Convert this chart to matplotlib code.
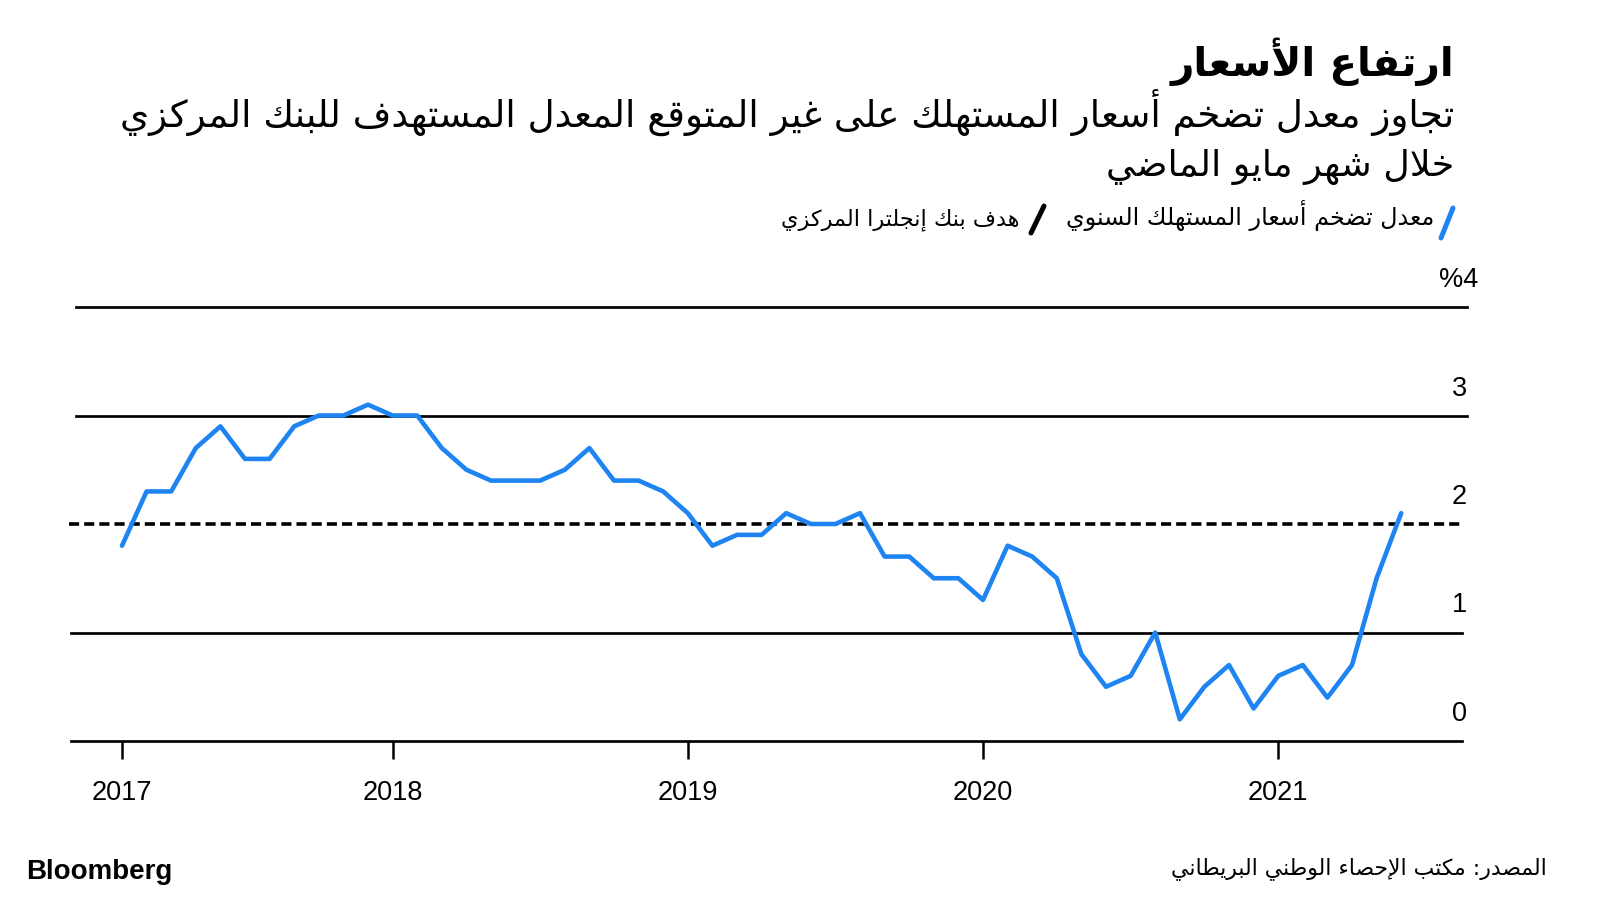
import matplotlib
matplotlib.use('Agg')
import matplotlib.pyplot as plt
from matplotlib.lines import Line2D

# ---------------- data ----------------
years = ['2017', '2018', '2019', '2020', '2021']
year_tick_index = [0, 11, 23, 35, 47]
cpi = [1.8, 2.3, 2.3, 2.7, 2.9, 2.6, 2.6, 2.9, 3.0, 3.0, 3.1, 3.0,
       3.0, 2.7, 2.5, 2.4, 2.4, 2.4, 2.5, 2.7, 2.4, 2.4, 2.3, 2.1,
       1.8, 1.9, 1.9, 2.1, 2.0, 2.0, 2.1, 1.7, 1.7, 1.5, 1.5, 1.3,
       1.8, 1.7, 1.5, 0.8, 0.5, 0.6, 1.0, 0.2, 0.5, 0.7, 0.3, 0.6,
       0.7, 0.4, 0.7, 1.5, 2.1]
target = 2.0
y_values = [0, 1, 2, 3, 4]
y_labels = ['0', '1', '2', '3', '%4']

title = "ارتفاع الأسعار"
subtitle1 = "تجاوز معدل تضخم أسعار المستهلك على غير المتوقع المعدل المستهدف للبنك المركزي"
subtitle2 = "خلال شهر مايو الماضي"
legend1 = "معدل تضخم أسعار المستهلك السنوي"
legend2 = "هدف بنك إنجلترا المركزي"
source = "المصدر: مكتب الإحصاء الوطني البريطاني"

# ---------------- Arabic shaping (presentation forms + RTL) ----------------
_RIGHT = {'\u0622': 0xFE81, '\u0623': 0xFE83, '\u0624': 0xFE85, '\u0625': 0xFE87,
          '\u0627': 0xFE8D, '\u0629': 0xFE93, '\u062F': 0xFEA9, '\u0630': 0xFEAB,
          '\u0631': 0xFEAD, '\u0632': 0xFEAF, '\u0648': 0xFEED, '\u0649': 0xFEEF}
_DUAL = {'\u0626': 0xFE89, '\u0628': 0xFE8F, '\u062A': 0xFE95, '\u062B': 0xFE99,
         '\u062C': 0xFE9D, '\u062D': 0xFEA1, '\u062E': 0xFEA5, '\u0633': 0xFEB1,
         '\u0634': 0xFEB5, '\u0635': 0xFEB9, '\u0636': 0xFEBD, '\u0637': 0xFEC1,
         '\u0638': 0xFEC5, '\u0639': 0xFEC9, '\u063A': 0xFECD, '\u0641': 0xFED1,
         '\u0642': 0xFED5, '\u0643': 0xFED9, '\u0644': 0xFEDD, '\u0645': 0xFEE1,
         '\u0646': 0xFEE5, '\u0647': 0xFEE9, '\u064A': 0xFEF1}
_NONJ = {'\u0621': 0xFE80}
_LAMALEF = {'\u0622': 0xFEF5, '\u0623': 0xFEF7, '\u0625': 0xFEF9, '\u0627': 0xFEFB}
_ALL = set(_RIGHT) | set(_DUAL) | set(_NONJ)


def ar(s):
    out = []
    n = len(s)
    i = 0
    while i < n:
        c = s[i]
        if c not in _ALL:
            out.append(c)
            i += 1
            continue
        prev = s[i - 1] if i > 0 else None
        cprev = prev in _DUAL and c not in _NONJ
        if c == '\u0644' and i + 1 < n and s[i + 1] in _LAMALEF:
            out.append(chr(_LAMALEF[s[i + 1]] + (1 if cprev else 0)))
            i += 2
            continue
        nxt = s[i + 1] if i + 1 < n else None
        if c in _DUAL:
            cnext = nxt in _ALL and nxt not in _NONJ
            base = _DUAL[c]
            if cprev and cnext:
                f = base + 3
            elif cprev:
                f = base + 1
            elif cnext:
                f = base + 2
            else:
                f = base
        elif c in _RIGHT:
            f = _RIGHT[c] + (1 if cprev else 0)
        else:
            f = _NONJ[c]
        out.append(chr(f))
        i += 1
    return ''.join(out)[::-1]


# ---------------- figure ----------------
W, H = 1600, 900
fig = plt.figure(figsize=(16, 9), dpi=100)
fig.patch.set_facecolor('white')

ax_left, ax_right = 69, 1467
y0_px, y4_px = 741, 307
ax = fig.add_axes([ax_left / W, 1 - y0_px / H, (ax_right - ax_left) / W, (y0_px - y4_px) / H])
ax.set_facecolor('none')

px_per_month = 24.6
x_first = 122
x = list(range(len(cpi)))
ax.set_xlim(-(x_first - ax_left) / px_per_month,
            (len(cpi) - 1) + (ax_right - (x_first + (len(cpi) - 1) * px_per_month)) / px_per_month)
ax.set_ylim(0, 4)

for sp in ax.spines.values():
    sp.set_visible(False)
ax.set_yticks([])


def frac(px):
    return (px - ax_left) / (ax_right - ax_left)


# gridlines
for v in y_values:
    if v == target:
        continue
    if v >= 3:
        ax.axhline(v, xmin=frac(76), xmax=1.0, color='black', lw=1.95, zorder=1, clip_on=False)
    else:
        ax.axhline(v, xmin=frac(71), xmax=frac(1462), color='black', lw=1.95, zorder=1, clip_on=False)

# target line
ax.axhline(target, xmin=0, xmax=frac(1464), color='black', lw=2.6,
           dashes=(2.8, 1.4), zorder=2, clip_on=False)

# CPI line
ax.plot(x, cpi, color='#1D84F2', lw=3.3, solid_capstyle='round',
        solid_joinstyle='round', zorder=3, clip_on=False)

# x ticks
ax.set_xticks(year_tick_index)
ax.set_xticklabels(years, fontfamily='Liberation Sans', fontsize=19.5)
ax.tick_params(axis='x', length=13, width=1.8, color='black', pad=15, direction='out')

# y labels above gridlines, on the right
for v, lab in zip(y_values, y_labels):
    dx = 11 if lab.startswith('%') else 0
    ax.annotate(lab, xy=(1.0, v), xycoords=('axes fraction', 'data'),
                xytext=(dx, 20), textcoords='offset pixels',
                ha='right', va='baseline', fontsize=19.5,
                fontfamily='Liberation Sans', color='black')

# ---------------- texts ----------------
renderer = fig.canvas.get_renderer()


def ftext(xr, yb, s, target_w, size, **kw):
    t = fig.text(xr / W, 1 - yb / H, s, ha='right', va='baseline', fontsize=size, **kw)
    if target_w:
        bb = t.get_window_extent(renderer=renderer)
        t.set_fontsize(size * target_w / bb.width)
    return t


ftext(1454, 76, ar(title), 283, 30, fontfamily='DejaVu Sans', fontweight='bold')
ftext(1454, 127, ar(subtitle1), 1342, 24, fontfamily='DejaVu Sans')
ftext(1454, 176, ar(subtitle2), 349, 24, fontfamily='DejaVu Sans')
ftext(1434, 225, ar(legend1), 368, 16, fontfamily='DejaVu Sans')
ftext(1020, 225, ar(legend2), 239, 16, fontfamily='DejaVu Sans')
ftext(1547, 874, ar(source), 377, 16, fontfamily='DejaVu Sans')

# legend slashes
fig.add_artist(Line2D([1441 / W, 1453 / W], [1 - 238 / H, 1 - 208 / H],
                      color='#1D84F2', lw=3.6, solid_capstyle='round'))
fig.add_artist(Line2D([1031 / W, 1044 / W], [1 - 233 / H, 1 - 206 / H],
                      color='black', lw=3.6, solid_capstyle='round'))

fig.text(26 / W, 1 - 879 / H, 'Bloomberg', ha='left', va='baseline',
         fontsize=20, fontweight='bold', fontfamily='Liberation Sans')

fig.savefig('out.png', dpi=100, facecolor='white')
